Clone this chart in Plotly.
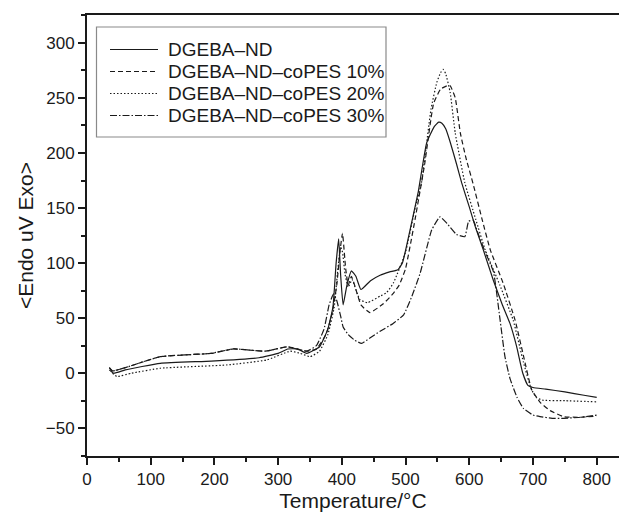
import plotly.graph_objects as go

# ---- data ----
names = ["DGEBA\u2013ND", "DGEBA\u2013ND\u2013coPES 10%", "DGEBA\u2013ND\u2013coPES 20%", "DGEBA\u2013ND\u2013coPES 30%"]

t_nd = [35, 42, 60, 115, 195, 270, 300, 315, 330, 345, 365, 378, 386, 391, 395, 398, 402, 408, 415, 422, 430,
        445, 460, 475, 488, 495, 507, 520, 533, 545, 552, 557, 563, 570, 580, 588, 600, 610, 622, 638, 652,
        664, 674, 684, 692, 700, 720, 750, 780, 800]
y_nd = [3, 0, 3, 9, 11, 14, 18, 22, 22, 18, 24, 40, 60, 100, 122, 90, 62, 80, 93, 88, 76,
        84, 89, 92, 94, 100, 130, 165, 209, 224, 228, 227, 222, 210, 190, 173, 151, 132, 112, 84, 62,
        45, 25, 0, -11, -13, -14.5, -17, -20, -22]

t_10 = [35, 40, 60, 115, 195, 230, 280, 315, 345, 360, 375, 385, 392, 397, 401, 406, 410, 415, 420, 430, 444,
        465, 480, 490, 500, 515, 530, 544, 555, 565, 570, 578, 586, 595, 606, 620, 633, 653, 672,
        685, 698, 712, 727, 748, 775, 800]
y_10 = [5, 2, 5, 15, 18, 22, 20, 24, 20, 22, 35, 55, 80, 110, 127, 95, 80, 88, 80, 62, 55,
        63, 72, 80, 95, 140, 190, 245, 258, 261, 261, 250, 218, 195, 172, 140, 112, 82, 48,
        16, -15, -27, -34, -39.5, -40, -39]

t_20 = [40, 47, 70, 115, 220, 282, 319, 335, 350, 365, 378, 388, 393, 398, 401, 405, 410, 416, 428, 440,
        460, 470, 481, 500, 515, 525, 540, 549, 555, 559, 563, 570, 578, 593, 610, 625, 648, 669,
        685, 697, 705, 715, 750, 800]
y_20 = [0, -3, 0, 4.5, 7.5, 12, 20, 18, 15, 20, 35, 60, 90, 115, 110, 90, 78, 85, 67, 64,
        70, 73, 82, 110, 150, 173, 240, 264, 273, 276, 272, 255, 218, 173, 140, 112, 80, 48,
        10, -14, -22, -24.5, -25, -26]

t_30 = [35, 40, 60, 115, 194, 230, 280, 314, 345, 360, 372, 380, 387, 392, 398, 402, 410, 420, 431, 444,
        460, 480, 497, 510, 523, 541, 554, 565, 580, 593, 599, 606, 615, 625, 638, 648, 656, 664, 675,
        685, 700, 711, 730, 748, 775, 800]
y_30 = [5, 2, 5, 15, 18, 22, 20, 24, 20, 25, 40, 62, 72, 66, 52, 42, 35, 30, 27, 32,
        38, 45, 53, 70, 91, 130, 142, 136, 126, 124, 138, 139, 125, 110, 92, 50, 15, -5, -22,
        -32, -38, -39.4, -41, -41, -40, -38]

x_ticks = [0, 100, 200, 300, 400, 500, 600, 700, 800]
y_ticks = [-50, 0, 50, 100, 150, 200, 250, 300]

dashes = ["solid", "5px,3px", "1.5px,2px", "7px,2px,1.5px,2px"]
series = [(t_nd, y_nd), (t_10, y_10), (t_20, y_20), (t_30, y_30)]

FONT = "Liberation Sans, Arial, sans-serif"
INK = "#1a1a1a"

W, H = 619, 515
ML, MR, MT, MB = 87, 0, 15, 59
PW, PH = W - ML - MR, H - MT - MB


def px(xp):  # page pixel -> paper x
    return (xp - ML) / PW


def py(yp):  # page pixel -> paper y
    return (H - MB - yp) / PH


fig = go.Figure()
for name, (tx, ty), dash in zip(names, series, dashes):
    fig.add_trace(go.Scatter(x=tx, y=ty, mode="lines", name=name, showlegend=False,
                             line=dict(color=INK, width=1.2, dash=dash, shape="spline", smoothing=0.4)))

# legend (box, line samples, labels)
shapes = [dict(type="rect", xref="paper", yref="paper", x0=px(96.5), x1=px(386), y0=py(137), y1=py(27),
               line=dict(color="#8a8a8a", width=1.2), fillcolor="white", layer="above")]
annotations = []
row0, gap = 49.5, 22
for i, (name, dash) in enumerate(zip(names, dashes)):
    yc = row0 + i * gap
    shapes.append(dict(type="line", xref="paper", yref="paper", x0=px(110), x1=px(158), y0=py(yc), y1=py(yc),
                       line=dict(color=INK, width=1.2, dash=dash), layer="above"))
    annotations.append(dict(xref="paper", yref="paper", x=px(166), y=py(yc), text=name, showarrow=False,
                            xanchor="left", yanchor="middle", font=dict(family=FONT, size=19, color=INK)))

fig.update_layout(
    width=W, height=H,
    margin=dict(l=ML, r=MR, t=MT, b=MB),
    paper_bgcolor="white", plot_bgcolor="white",
    font=dict(family=FONT, color=INK, size=17),
    showlegend=False,
    shapes=shapes, annotations=annotations,
)
fig.update_xaxes(range=[0, 835], tickvals=x_ticks, ticks="outside", ticklen=7, tickwidth=1.5,
                 tickcolor=INK, showline=True, linewidth=2, linecolor=INK, mirror=True,
                 showgrid=False, zeroline=False,
                 minor=dict(dtick=50, tick0=0, ticks="outside", ticklen=4, tickwidth=1.5, tickcolor=INK),
                 tickfont=dict(size=17, family=FONT, color=INK),
                 title=dict(text="Temperature/\u00b0C", font=dict(size=21, family=FONT, color=INK), standoff=4))
fig.update_yaxes(range=[-75.2, 325.3], tickvals=y_ticks, ticks="outside", ticklen=7, tickwidth=1.5,
                 tickcolor=INK, showline=True, linewidth=2, linecolor=INK,
                 showgrid=False, zeroline=False,
                 minor=dict(dtick=25, tick0=0, ticks="outside", ticklen=4, tickwidth=1.5, tickcolor=INK),
                 tickfont=dict(size=17, family=FONT, color=INK),
                 title=dict(text="<Endo uV Exo>", font=dict(size=21, family=FONT, color=INK), standoff=6))

fig.write_html("out.html")
